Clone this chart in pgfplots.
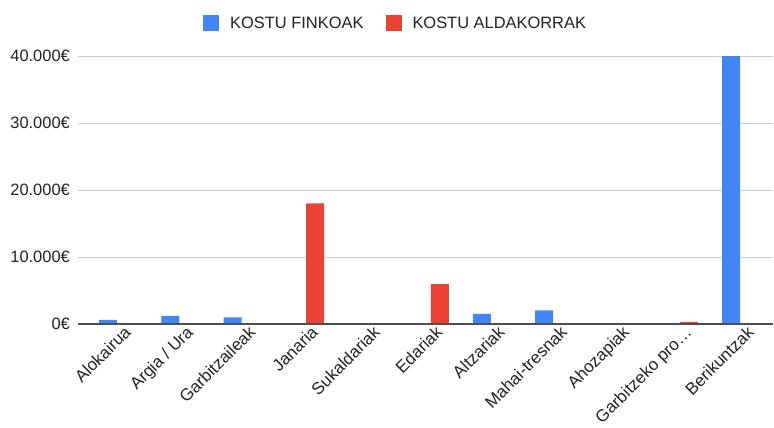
\documentclass[border=0pt]{standalone}
\usepackage{fontspec}
\setmainfont{Liberation Sans}
\usepackage{pgfplots}
\pgfplotsset{compat=1.18}
\definecolor{gblue}{HTML}{4285F4}
\definecolor{gred}{HTML}{EA4335}
\definecolor{ggrid}{HTML}{CCCCCC}
\definecolor{gtext}{HTML}{222222}
\begin{document}
\begin{tikzpicture}
\begin{axis}[
  at={(0,0)}, anchor=south west,
  scale only axis,
  width=695bp, height=268bp,
  ybar=2.3bp, bar width=18bp,
  xmin=-0.644, xmax=10.51,
  ymin=0, ymax=40000,
  scaled y ticks=false,
  axis line style={draw=none},
  ytick={0,10000,20000,30000,40000},
  yticklabels={0€,10.000€,20.000€,30.000€,40.000€},
  ymajorgrids, grid style={ggrid, line width=0.8bp},
  xtick={0,...,10},
  xticklabels={Alokairua,Argia / Ura,Garbitzaileak,Janaria,Sukaldariak,Edariak,Altzariak,Mahai-tresnak,Ahozapiak,Garbitzeko pro\dots,Berikuntzak},
  major tick length=0pt,
  tick label style={font=\fontsize{16.5}{18}\selectfont, text=gtext},
  xticklabel style={font=\fontsize{17}{19}\selectfont, rotate=45, anchor=north east, inner sep=1bp, xshift=4bp, yshift=-3bp},
  yticklabel style={inner sep=3bp, xshift=-5bp},
  legend style={at={(0.457,1)}, anchor=south, yshift=22bp, draw=none, font=\fontsize{16.5}{18}\selectfont, text=gtext, legend columns=2,
    /tikz/every odd column/.append style={column sep=9bp},
    /tikz/every even column/.append style={column sep=20bp}},
  legend image code/.code={\fill[#1] (0bp,-8bp) rectangle (16bp,8bp);},
  clip=false,
]
\addplot[fill=gblue, draw=none] coordinates {(0,600) (1,1200) (2,1000) (3,0) (4,0) (5,0) (6,1500) (7,2050) (8,0) (9,0) (10,40000)};
\addplot[fill=gred, draw=none] coordinates {(0,0) (1,0) (2,0) (3,18000) (4,0) (5,5950) (6,0) (7,0) (8,0) (9,300) (10,0)};
\legend{KOSTU FINKOAK, KOSTU ALDAKORRAK}
\draw[color=gtext!80, line width=1.2bp] (rel axis cs:0,0) -- (rel axis cs:1,0);
\end{axis}
\pgfresetboundingbox
\path[use as bounding box] (-78bp,-104bp) rectangle (696bp,324bp);
\end{tikzpicture}
\end{document}
